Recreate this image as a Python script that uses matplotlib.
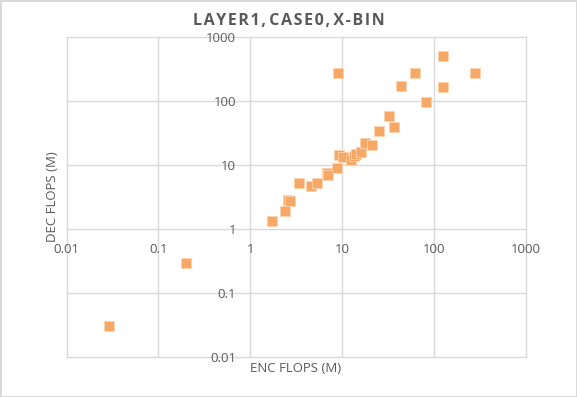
import numpy as np
from matplotlib import pyplot as plt
from matplotlib.ticker import FixedLocator, FixedFormatter

plt.rcParams['font.family'] = ['Open Sans', 'DejaVu Sans']

# data (millions of flops)
enc_flops = [0.029, 0.2, 1.73, 2.4, 2.6, 2.7, 3.44, 4.6, 5.3, 6.8, 7.0, 8.9, 9.1,
             9.3, 10.3, 12.4, 13.6, 14.1, 16, 18, 21, 25.4, 32.4, 37, 44, 63, 82,
             126, 126, 281]
dec_flops = [0.030, 0.29, 1.33, 1.86, 2.77, 2.67, 5.2, 4.6, 5.2, 7.4, 7.0, 9.0, 274,
             14.1, 13.2, 11.7, 13.6, 14.7, 16, 21.5, 20, 34, 57, 39, 167, 274, 96,
             500, 163, 274]
ticks = [0.01, 0.1, 1, 10, 100, 1000]
tick_labels = ["0.01", "0.1", "1", "10", "100", "1000"]

grey = '#595959'
gridc = '#d9d9d9'

fig = plt.figure(figsize=(5.77, 3.97), dpi=100, edgecolor=gridc, linewidth=2)
ax = fig.add_axes([0.1154, 0.1015, 0.7954, 0.8061])

ax.set_xscale('log')
ax.set_yscale('log')
ax.set_xlim(0.01, 1000)
ax.set_ylim(0.01, 1000)

ax.scatter(enc_flops, dec_flops, marker='s', s=42, color='#F8A865',
           edgecolors='#FCD3B0', linewidths=0.6, zorder=3)

# axes cross at 1, like the excel chart
ax.spines['bottom'].set_position(('data', 1))
ax.spines['left'].set_position(('data', 1))
for sp in ax.spines.values():
    sp.set_color('none')

ax.xaxis.set_major_locator(FixedLocator(ticks))
ax.xaxis.set_major_formatter(FixedFormatter(tick_labels))
ax.yaxis.set_major_locator(FixedLocator(ticks))
ax.yaxis.set_major_formatter(FixedFormatter(tick_labels))
ax.minorticks_off()
ax.tick_params(axis='x', length=0, pad=10.5, labelsize=9.5, labelcolor=grey)
ax.tick_params(axis='y', length=0, pad=10, labelsize=9.5, labelcolor=grey)

ax.grid(True, color=gridc, linewidth=1)
for gl in ax.get_xgridlines() + ax.get_ygridlines():
    gl.set_clip_on(False)
ax.set_axisbelow(True)

fig.text(0.5, 0.947, "L A Y E R 1 ,  C A S E 0 ,  X - B I N".replace(" ", "\u200a"),
         ha='center', va='center', fontsize=11.5, fontweight='bold', color=grey)
fig.text(296 / 577, 1 - 369 / 397, "ENC FLOPS (M)", ha='center', va='center',
         fontsize=9.5, color=grey)
fig.text(53 / 577, 1 - 197 / 397, "DEC FLOPS (M)", ha='center', va='center',
         rotation=90, fontsize=9.5, color=grey)

fig.savefig('out.png', dpi=100, edgecolor=fig.get_edgecolor())
